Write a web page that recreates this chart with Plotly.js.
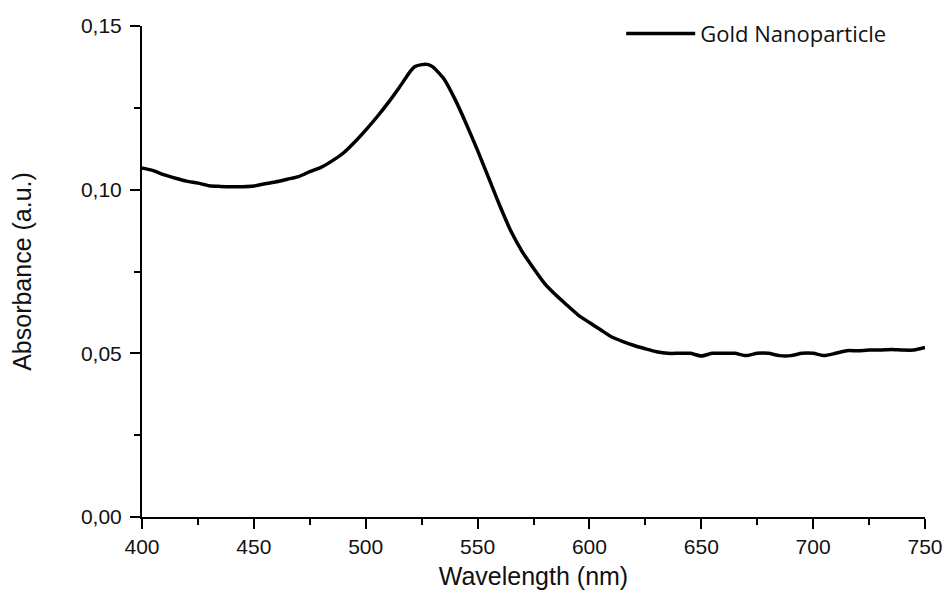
<!DOCTYPE html>
<html>
<head>
<meta charset="utf-8">
<script src="https://cdn.plot.ly/plotly-3.0.1.min.js"></script>
<style>html,body{margin:0;padding:0;background:#fff;}#chart{width:947px;height:594px;}</style>
</head>
<body>
<div id="chart"></div>
<script>
const wavelength = [400,405,410,415,420,425,430,435,440,445,450,455,460,465,470,475,480,485,490,495,500,505,510,515,520,522,525,528,530,535,540,545,550,555,560,565,570,575,580,585,590,595,600,605,610,615,620,625,630,635,640,645,650,655,660,665,670,675,680,685,690,695,700,705,710,715,720,725,730,735,740,745,750];
const absorbance = [0.1066,0.1058,0.1045,0.1035,0.1026,0.1020,0.1012,0.1010,0.1009,0.1009,0.1011,0.1018,0.1024,0.1032,0.1040,0.1055,0.1068,0.1088,0.1112,0.1145,0.1182,0.1222,0.1265,0.1312,0.1362,0.1376,0.1382,0.1382,0.1375,0.1338,0.1275,0.1200,0.1120,0.1035,0.0950,0.0872,0.0810,0.0760,0.0713,0.0678,0.0647,0.0617,0.0594,0.0572,0.0550,0.0536,0.0524,0.0514,0.0505,0.0500,0.0500,0.0500,0.0492,0.0500,0.0500,0.0500,0.0493,0.0500,0.0500,0.0493,0.0493,0.0500,0.0500,0.0493,0.0500,0.0508,0.0508,0.0510,0.0510,0.0512,0.0510,0.0510,0.0518];
const seriesName = "Gold Nanoparticle";
const xTitle = "Wavelength (nm)";
const yTitle = "Absorbance (a.u.)";

const trace = {
  x: wavelength, y: absorbance, name: seriesName, type: 'scatter', mode: 'lines',
  line: {color: '#000', width: 3.5, shape: 'spline', smoothing: 0.6}
};
const axisFont = {family: 'Liberation Sans, Arial, sans-serif', size: 21, color: '#111'};
const titleFont = {family: 'Liberation Sans, Arial, sans-serif', size: 25, color: '#111'};
const layout = {
  width: 947, height: 594,
  margin: {l: 142, r: 22, t: 26, b: 77},
  paper_bgcolor: '#fff', plot_bgcolor: '#fff',
  separators: ',.',
  showlegend: true,
  legend: {x: 0.612, y: 1.027, xanchor: 'left', yanchor: 'top', itemwidth: 69,
    font: {family: 'Open Sans, sans-serif', size: 22, color: '#111'}, bgcolor: 'rgba(0,0,0,0)'},
  xaxis: {
    range: [400, 750], dtick: 50, tick0: 400, showgrid: false, zeroline: false,
    showline: true, linecolor: '#000', linewidth: 2,
    ticks: 'outside', ticklen: 10, tickwidth: 2, tickcolor: '#000',
    minor: {dtick: 25, tick0: 400, ticks: 'outside', ticklen: 6, tickwidth: 2, tickcolor: '#000', showgrid: false},
    tickfont: axisFont,
    title: {text: xTitle, font: titleFont, standoff: 10}
  },
  yaxis: {
    range: [0, 0.15], dtick: 0.05, tick0: 0, tickformat: '.2f', showgrid: false, zeroline: false,
    showline: true, linecolor: '#000', linewidth: 2,
    ticks: 'outside', ticklen: 10, tickwidth: 2, tickcolor: '#000', ticklabelstandoff: 4,
    minor: {dtick: 0.025, tick0: 0, ticks: 'outside', ticklen: 6, tickwidth: 2, tickcolor: '#000', showgrid: false},
    tickfont: axisFont,
    title: {text: yTitle, font: titleFont, standoff: 42}
  }
};
Plotly.newPlot('chart', [trace], layout, {displayModeBar: false, staticPlot: true});
</script>
</body>
</html>
